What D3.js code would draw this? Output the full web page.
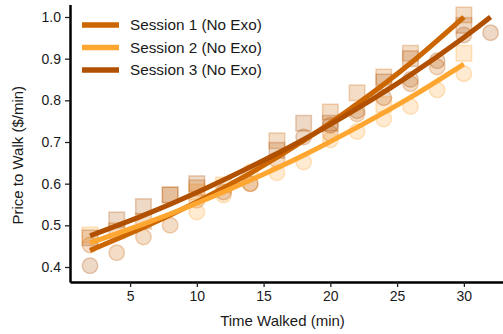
<!DOCTYPE html>
<html>
<head>
<meta charset="utf-8">
<script src="https://cdn.jsdelivr.net/npm/d3@7"></script>
<style>
  html, body { margin: 0; padding: 0; background: #fff; }
  svg { display: block; }
  text { font-family: "Liberation Sans", Arial, Helvetica, sans-serif; fill: #1a1a1a; }
</style>
</head>
<body>
<svg id="chart" width="503" height="334"></svg>
<script>
// ---- series labels and colours ----
const sessionNames = ["Session 1 (No Exo)", "Session 2 (No Exo)", "Session 3 (No Exo)"];
const sessionColors = ["#cc6600", "#ffa630", "#b05000"];

// ---- Session 1 observations ----
const s1CircleTime  = [2, 4, 6, 8, 10, 16, 20, 22, 26, 28];
const s1CirclePrice = [0.453, 0.434, 0.472, 0.50, 0.56, 0.657, 0.72, 0.767, 0.84, 0.88];
const s1SquareTime  = [4, 6, 8, 10, 16, 20, 22, 24, 26, 30];
const s1SquarePrice = [0.487, 0.51, 0.573, 0.59, 0.703, 0.772, 0.818, 0.856, 0.913, 1.005];

// ---- Session 2 observations ----
const s2CircleTime  = [10, 12, 14, 14, 16, 18, 20, 22, 24, 26, 28, 30];
const s2CirclePrice = [0.532, 0.573, 0.60, 0.628, 0.626, 0.652, 0.705, 0.725, 0.755, 0.785, 0.825, 0.864];
const s2SquareTime  = [2, 10, 12, 24, 30];
const s2SquarePrice = [0.477, 0.58, 0.597, 0.79, 0.913];

// ---- Session 3 observations ----
const s3CircleTime  = [2, 12, 14, 18, 20, 22, 24, 26, 28, 30, 32];
const s3CirclePrice = [0.403, 0.58, 0.60, 0.712, 0.74, 0.775, 0.806, 0.85, 0.895, 0.957, 0.962];
const s3SquareTime  = [2, 4, 6, 8, 10, 16, 18, 20, 24, 26, 30];
const s3SquarePrice = [0.47, 0.513, 0.545, 0.573, 0.60, 0.68, 0.745, 0.745, 0.844, 0.90, 0.98];

// ---- fitted price curves ----
const s1FitTime  = [2, 6, 10, 14, 18, 22, 26, 30];
const s1FitPrice = [0.44, 0.495, 0.556, 0.625, 0.703, 0.791, 0.889, 1.0];
const s2FitTime  = [2, 6, 10, 14, 18, 22, 26, 30];
const s2FitPrice = [0.458, 0.503, 0.553, 0.608, 0.668, 0.735, 0.807, 0.887];
const s3FitTime  = [2, 6, 10, 14, 18, 22, 26, 30, 32];
const s3FitPrice = [0.475, 0.524, 0.579, 0.640, 0.706, 0.780, 0.861, 0.951, 1.0];

// ---- axis ticks ----
const xTicks = [5, 10, 15, 20, 25, 30];
const yTicks = [0.4, 0.5, 0.6, 0.7, 0.8, 0.9, 1.0];

const svg = d3.select("#chart");
const plotLeft = 70, plotBottom = 282, plotTop = 4.5, plotRight = 510.6;

const x = d3.scaleLinear().domain([0.5, 33.5]).range([plotLeft, plotRight]);
const y = d3.scaleLinear().domain([0.364, 1.03]).range([plotBottom, plotTop]);

const zip = (ts, ps) => ts.map((t, i) => ({ t, p: ps[i] }));
const sessions = [
  { circles: zip(s1CircleTime, s1CirclePrice), squares: zip(s1SquareTime, s1SquarePrice), fit: zip(s1FitTime, s1FitPrice) },
  { circles: zip(s2CircleTime, s2CirclePrice), squares: zip(s2SquareTime, s2SquarePrice), fit: zip(s2FitTime, s2FitPrice) },
  { circles: zip(s3CircleTime, s3CirclePrice), squares: zip(s3SquareTime, s3SquarePrice), fit: zip(s3FitTime, s3FitPrice) }
];

// ---- scatter markers ----
const markerSize = 15.5;
const pts = svg.append("g");
sessions.forEach((s, i) => {
  const c = sessionColors[i];
  pts.selectAll(null).data(s.squares).join("rect")
    .attr("x", d => x(d.t) - markerSize / 2)
    .attr("y", d => y(d.p) - markerSize / 2)
    .attr("width", markerSize).attr("height", markerSize)
    .attr("fill", c).attr("fill-opacity", 0.22)
    .attr("stroke", c).attr("stroke-opacity", 0.28).attr("stroke-width", 1.5);
  pts.selectAll(null).data(s.circles).join("circle")
    .attr("cx", d => x(d.t)).attr("cy", d => y(d.p))
    .attr("r", markerSize / 2)
    .attr("fill", c).attr("fill-opacity", 0.22)
    .attr("stroke", c).attr("stroke-opacity", 0.28).attr("stroke-width", 1.5);
});

// ---- fitted curves ----
const line = d3.line().x(d => x(d.t)).y(d => y(d.p)).curve(d3.curveNatural);
sessions.forEach((s, i) => {
  svg.append("path").datum(s.fit)
    .attr("d", line)
    .attr("fill", "none")
    .attr("stroke", sessionColors[i])
    .attr("stroke-width", 5);
});

// ---- axes ----
const xAxis = svg.append("g").attr("transform", `translate(0,${plotBottom})`)
  .call(d3.axisBottom(x).tickValues(xTicks).tickFormat(d3.format("d")).tickSize(5).tickSizeOuter(0));
const yAxis = svg.append("g").attr("transform", `translate(${plotLeft},0)`)
  .call(d3.axisLeft(y).tickValues(yTicks).tickFormat(d3.format(".1f")).tickSize(5).tickSizeOuter(0));

[xAxis, yAxis].forEach(a => {
  a.select(".domain").attr("stroke", "#000").attr("stroke-width", 2.5);
  a.selectAll(".tick line").attr("stroke", "#222").attr("stroke-width", 1.3);
  a.selectAll(".tick text").attr("font-size", 14).attr("fill", "#1a1a1a")
    .attr("font-family", "Liberation Sans, Arial, sans-serif");
});
xAxis.selectAll(".tick text").attr("dy", "0.71em").attr("y", 9);
yAxis.selectAll(".tick text").attr("x", -9);

// ---- axis titles ----
svg.append("text")
  .attr("x", (plotLeft + 503) / 2 - 4).attr("y", 326)
  .attr("text-anchor", "middle").attr("font-size", 15)
  .text("Time Walked (min)");
svg.append("text")
  .attr("transform", `translate(23,${(plotBottom + plotTop) / 2 + 12}) rotate(-90)`)
  .attr("text-anchor", "middle").attr("font-size", 15)
  .text("Price to Walk ($/min)");

// ---- legend ----
const legend = svg.append("g");
sessionNames.forEach((name, i) => {
  const ly = 25 + i * 22.5;
  legend.append("line")
    .attr("x1", 82).attr("x2", 119).attr("y1", ly).attr("y2", ly)
    .attr("stroke", sessionColors[i]).attr("stroke-width", 5.5);
  legend.append("text")
    .attr("x", 130).attr("y", ly + 5.3)
    .attr("font-size", 15.3)
    .text(name);
});
</script>
</body>
</html>
